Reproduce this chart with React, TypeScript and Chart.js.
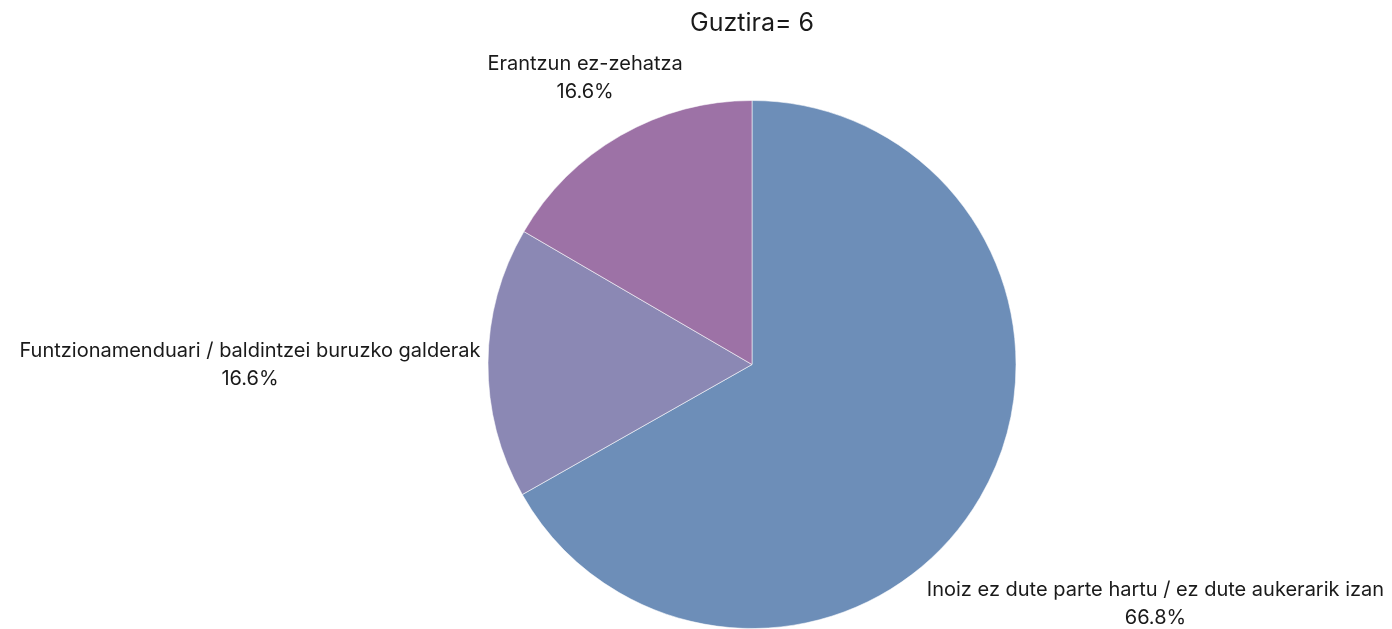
import React, { useEffect, useRef } from "react";
import { Chart, registerables } from "chart.js";

Chart.register(...registerables);

const categories = [
  "Inoiz ez dute parte hartu / ez dute aukerarik izan",
  "Funtzionamenduari / baldintzei buruzko galderak",
  "Erantzun ez-zehatza",
];
const percentValues = [66.8, 16.6, 16.6];
const percentLabels = ["66.8%", "16.6%", "16.6%"];
const sliceColors = ["#6D8EB8", "#8B88B4", "#9D72A6"];
const titleText = "Guztira= 6";

const FONT = "Inter, 'DejaVu Sans', sans-serif";
const LABEL_SIZE = 20;
const LABEL_LINE = 28;
const LABEL_GAP = 7;
const TEXT_SHIFT = 4;

const outsideLabels = {
  id: "outsideLabels",
  afterDatasetsDraw(chart: any) {
    const ctx = chart.ctx;
    const meta = chart.getDatasetMeta(0);
    ctx.save();
    ctx.font = `${LABEL_SIZE}px ${FONT}`;
    ctx.fillStyle = "#1a1a1a";
    ctx.textAlign = "center";
    ctx.textBaseline = "middle";
    meta.data.forEach((arc: any, i: number) => {
      const p = arc.getProps(["x", "y", "startAngle", "endAngle", "outerRadius"], true);
      const mid = (p.startAngle + p.endAngle) / 2;
      const dx = Math.cos(mid);
      const dy = Math.sin(mid);
      const lines = [categories[i], percentLabels[i]];
      const w = Math.max(...lines.map((l) => ctx.measureText(l).width));
      const h = lines.length * LABEL_LINE;
      const limit = p.outerRadius + LABEL_GAP;
      let d = p.outerRadius;
      let cx = p.x, cy = p.y;
      for (; d < 2000; d += 0.5) {
        cx = p.x + dx * d;
        cy = p.y + dy * d;
        const nx = Math.min(Math.max(p.x, cx - w / 2), cx + w / 2);
        const ny = Math.min(Math.max(p.y, cy - h / 2), cy + h / 2);
        if (Math.hypot(nx - p.x, ny - p.y) >= limit) break;
      }
      lines.forEach((l, k) => {
        ctx.fillText(l, cx, cy - h / 2 + LABEL_LINE * (k + 0.5) + TEXT_SHIFT);
      });
    });
    ctx.restore();
  },
};

export default function App() {
  const ref = useRef<HTMLCanvasElement | null>(null);
  useEffect(() => {
    if (!ref.current) return;
    const chart = new Chart(ref.current, {
      type: "pie",
      data: {
        labels: categories,
        datasets: [
          {
            data: percentValues,
            backgroundColor: sliceColors,
            borderColor: "rgba(255,255,255,0.55)",
            borderWidth: 1,
          },
        ],
      },
      options: {
        animation: false,
        responsive: true,
        maintainAspectRatio: false,
        layout: { padding: { left: 420, right: 308, top: 0, bottom: 0 } },
        plugins: {
          legend: { display: false },
          tooltip: { enabled: false },
          title: {
            display: true,
            text: titleText,
            color: "#1a1a1a",
            font: { family: FONT, size: 25, weight: "normal" },
            padding: { top: 8, bottom: 62 },
          },
        },
      },
      plugins: [outsideLabels],
    });
    return () => chart.destroy();
  }, []);
  return (
    <div style={{ position: "fixed", left: 0, top: 0, width: "1392px", height: "629px", background: "#fff" }}>
      <canvas ref={ref} />
    </div>
  );
}
